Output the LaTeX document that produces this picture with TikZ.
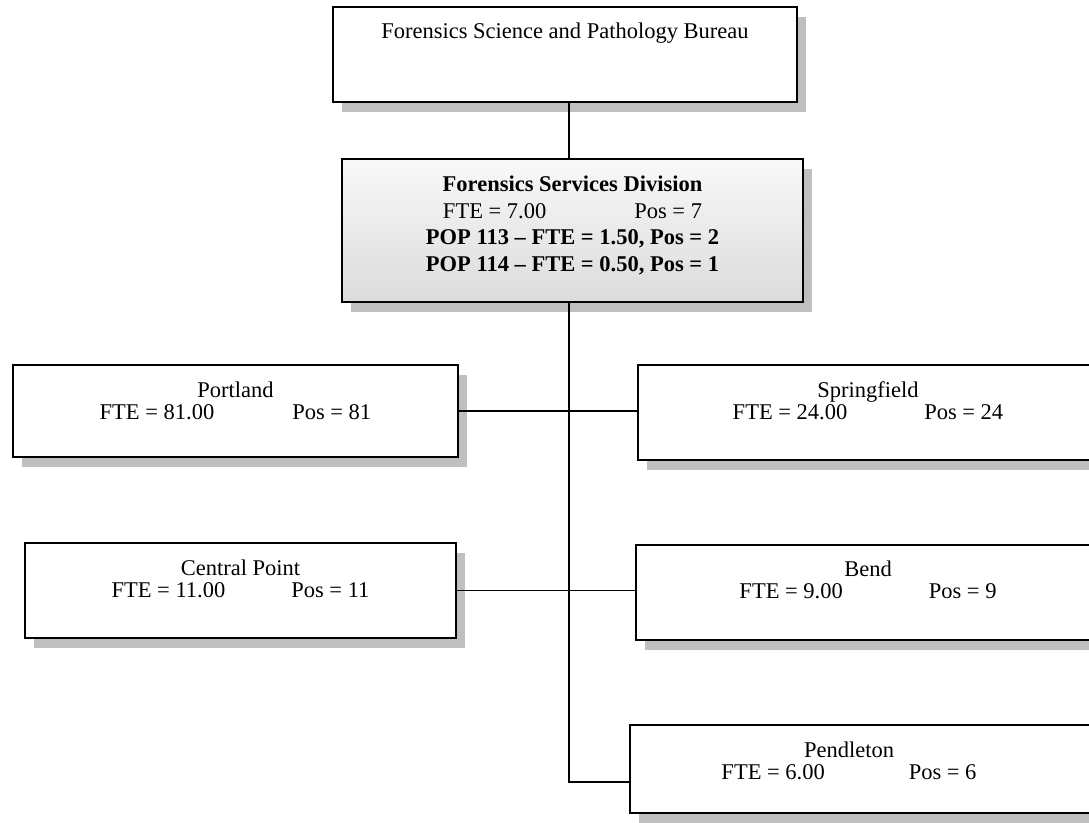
\documentclass[tikz,border=0pt]{standalone}
\usepackage{fontspec}
\setmainfont{Liberation Serif}
\usetikzlibrary{shadows}
% #1 width, #2 height, #3 top pad, #4 baselineskip, #5 extra right skip, #6 content
\newcommand{\orgtext}[6]{\parbox[c][#2][t]{#1}{\fontsize{22.5pt}{#4}\selectfont\centering\rightskip=#5 plus 1fil\vspace*{#3}\strut #6}}
\tikzset{
  orgbox/.style={draw=black, line width=1.6pt, fill=white, inner sep=0pt, outer sep=0pt, anchor=north west,
    drop shadow={shadow xshift=9pt, shadow yshift=-10pt, fill=gray!50, opacity=1}},
  divbox/.style={orgbox, top color=gray!5, bottom color=gray!28},
  link/.style={line width=1.3pt, draw=black}
}
\begin{document}
\begin{tikzpicture}[x=1pt,y=-1pt]
\useasboundingbox (0,0) rectangle (1089,822);
\clip (0,0) rectangle (1089,822);
\fill[white] (0,0) rectangle (1089,822);
\coordinate (trunk) at (569,0);
\coordinate (pj) at (630,782);

\node[orgbox] (bureau) at (333,7) {\orgtext{464pt}{95pt}{12.8pt}{26pt}{0pt}{Forensics Science and Pathology Bureau}};

\node[divbox] (div) at (342,159) {\orgtext{461pt}{143pt}{14.4pt}{26.5pt}{0pt}{\textbf{Forensics Services Division}\\FTE = 7.00\hspace{88pt}Pos = 7\\\textbf{POP 113 – FTE = 1.50, Pos = 2}\\\textbf{POP 114 – FTE = 0.50, Pos = 1}}};

\node[orgbox] (port) at (13,365) {\orgtext{445pt}{92pt}{16.6pt}{22pt}{0pt}{Portland\\FTE = 81.00\hspace{78pt}Pos = 81}};
\node[orgbox] (spring) at (638,365) {\orgtext{460pt}{95pt}{16.6pt}{22pt}{0pt}{Springfield\\FTE = 24.00\hspace{77pt}Pos = 24}};

\node[orgbox] (cent) at (25,543) {\orgtext{431pt}{95pt}{16.6pt}{22pt}{0pt}{Central Point\\FTE = 11.00\hspace{66pt}Pos = 11}};
\node[orgbox] (bend) at (636,545) {\orgtext{464pt}{95pt}{16pt}{22pt}{0pt}{Bend\\FTE = 9.00\hspace{86pt}Pos = 9}};

\node[orgbox] (pend) at (630,725) {\orgtext{470pt}{88pt}{16.6pt}{22pt}{32pt}{Pendleton\\FTE = 6.00\hspace{84pt}Pos = 6}};

\draw[link] (bureau.south -| trunk) -- (div.north -| trunk);
\draw[link] (div.south -| trunk) |- (pj);
\draw[link] (port.east) -- (port.east -| spring.west);
\draw[link] (cent.east) -- (cent.east -| bend.west);
\end{tikzpicture}
\end{document}
